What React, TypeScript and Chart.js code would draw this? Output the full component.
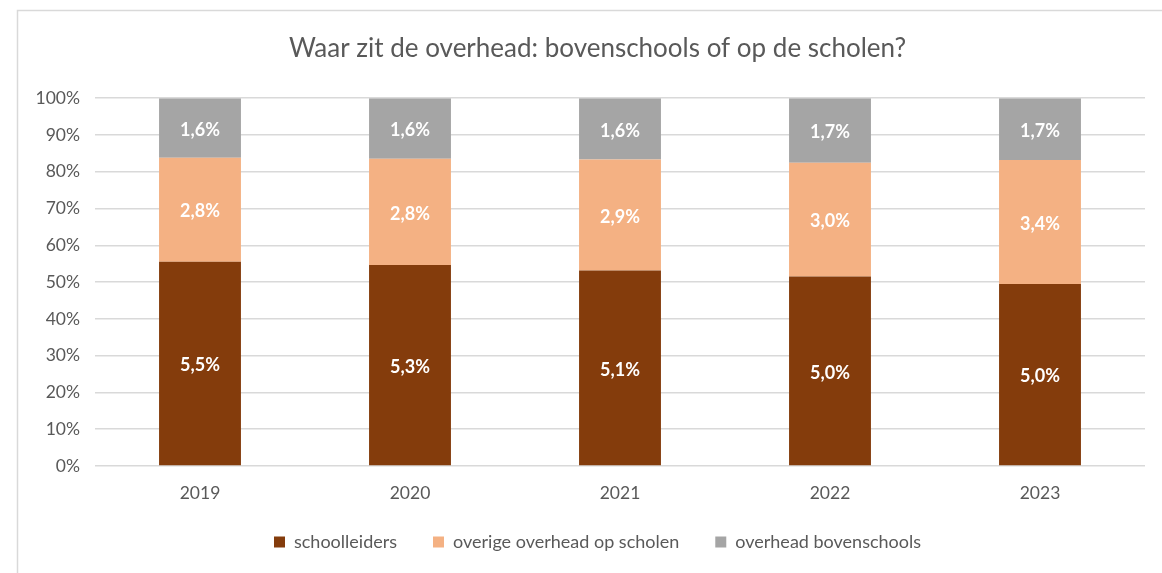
import React, { useEffect, useRef } from "react";
import { Chart, registerables } from "chart.js";

Chart.register(...registerables);

const categories = ["2019", "2020", "2021", "2022", "2023"];
const schoolleiders = [5.5, 5.3, 5.1, 5.0, 5.0];
const overigeOverhead = [2.8, 2.8, 2.9, 3.0, 3.4];
const overheadBovenschools = [1.6, 1.6, 1.6, 1.7, 1.7];
const yTicks = [0, 10, 20, 30, 40, 50, 60, 70, 80, 90, 100];

const seriesNames = ["schoolleiders", "overige overhead op scholen", "overhead bovenschools"];
const seriesColors = ["#843C0C", "#F4B183", "#A5A5A5"];

const FONT = "Lato, 'Open Sans', sans-serif";

const fmt = (v: number) => v.toFixed(1).replace(".", ",") + "%";

export default function App() {
  const ref = useRef<HTMLCanvasElement | null>(null);

  useEffect(() => {
    if (!ref.current) return;
    const raw = [schoolleiders, overigeOverhead, overheadBovenschools];
    const totals = categories.map((_, i) => raw.reduce((s, arr) => s + arr[i], 0));
    const datasets = raw.map((arr, k) => ({
      label: seriesNames[k],
      data: arr.map((v, i) => (v / totals[i]) * 100),
      rawValues: arr,
      backgroundColor: seriesColors[k],
      borderWidth: 0,
      barPercentage: 0.39,
      categoryPercentage: 1,
    }));

    const framePlugin = {
      id: "frame",
      beforeDraw(chart: any) {
        const ctx = chart.ctx;
        ctx.save();
        ctx.fillStyle = "#ffffff";
        ctx.fillRect(0, 0, chart.width, chart.height);
        ctx.strokeStyle = "#d9d9d9";
        ctx.lineWidth = 1.5;
        ctx.strokeRect(17.5, 10.5, chart.width + 20, chart.height + 20);
        ctx.restore();
      },
    };

    // let tick labels overflow their scale boxes (as in the reference)
    const noClipPlugin = {
      id: "noClip",
      afterLayout(chart: any) {
        Object.values(chart.scales).forEach((s: any) => {
          s._computeLabelArea = () => undefined;
        });
      },
    };

    const labelPlugin = {
      id: "segLabels",
      afterDatasetsDraw(chart: any) {
        const ctx = chart.ctx;
        ctx.save();
        ctx.fillStyle = "#ffffff";
        ctx.font = `bold 18px ${FONT}`;
        ctx.textAlign = "center";
        ctx.textBaseline = "middle";
        chart.data.datasets.forEach((ds: any, di: number) => {
          const meta = chart.getDatasetMeta(di);
          meta.data.forEach((el: any, i: number) => {
            const cy = (el.y + el.base) / 2 + 2;
            ctx.fillText(fmt(ds.rawValues[i]), el.x, cy);
          });
        });
        ctx.restore();
      },
    };

    const chart = new Chart(ref.current, {
      type: "bar",
      data: { labels: categories, datasets: datasets as any },
      options: {
        animation: false,
        responsive: true,
        maintainAspectRatio: false,
        layout: { padding: { left: 50, right: 17, top: 0, bottom: 12 } },
        plugins: {
          title: {
            display: true,
            text: "Waar zit de overhead: bovenschools of op de scholen?",
            color: "#595959",
            font: { family: FONT, size: 26, weight: "normal" },
            padding: { top: 33, bottom: 34 },
          },
          legend: {
            position: "bottom",
            labels: {
              color: "#595959",
              font: { family: FONT, size: 18 },
              boxWidth: 11,
              boxHeight: 11,
              padding: 36,
            },
          },
          tooltip: { enabled: false },
        },
        scales: {
          x: {
            stacked: true,
            grid: { display: false, drawTicks: false },
            border: { display: false },
            ticks: { color: "#595959", font: { family: FONT, size: 17.5 }, padding: 17 },
            afterFit(scale: any) {
              scale.height = 31;
            },
          },
          y: {
            stacked: true,
            min: 0,
            max: 100,
            afterBuildTicks(scale: any) {
              scale.ticks = yTicks.map((v) => ({ value: v }));
            },
            grid: { color: "#d9d9d9", lineWidth: 1.5, drawTicks: false },
            border: { display: false },
            ticks: {
              color: "#595959",
              font: { family: FONT, size: 17.5 },
              padding: 15,
              callback: (v: any) => v + "%",
            },
            afterFit(scale: any) {
              scale.width = 45;
            },
          },
        },
      },
      plugins: [framePlugin, noClipPlugin, labelPlugin],
    });
    return () => chart.destroy();
  }, []);

  return (
    <div style={{ position: "fixed", top: 0, left: 0, width: 1162, height: 573, background: "#fff" }}>
      <canvas ref={ref} />
    </div>
  );
}
